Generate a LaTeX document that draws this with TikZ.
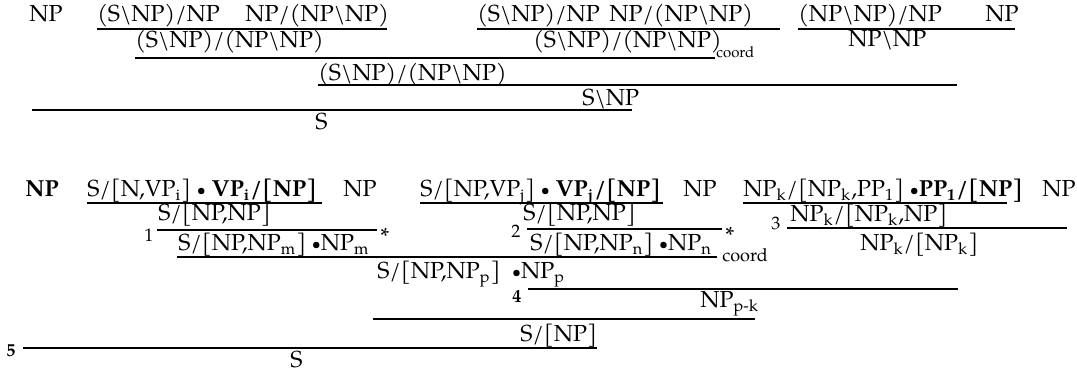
\documentclass[tikz,border=0pt]{standalone}
\usepackage{fontspec}
\setmainfont{TeX Gyre Pagella}
\newcommand\bsl{\textbackslash}
\newcommand\sbs[1]{\textsubscript{#1}}
\newcommand\bul{\raisebox{0.12ex}{\fontsize{8}{8}\selectfont\textbullet}}
\begin{document}
\begin{tikzpicture}[x=0.5pt,y=-0.5pt,
  lbl/.style={anchor=base west,inner sep=0pt,font=\fontsize{11.6}{13}\selectfont},
  crd/.style={anchor=base west,inner sep=0pt},
  num/.style={anchor=base west,inner sep=0pt,font=\fontsize{9}{10}\selectfont},
  bnum/.style={anchor=base west,inner sep=0pt,font=\fontsize{9}{10}\selectfont\bfseries},
  star/.style={anchor=base west,inner sep=0pt,font=\fontsize{11.6}{13}\selectfont},
  bar/.style={line width=1pt}]
\useasboundingbox (0,0) rectangle (1077,373);
% ---------------- top derivation
\node[lbl] (a1) at (29,22) {NP};
\node[lbl] (a2) at (97,22) {(S\bsl NP)/NP};
\node[lbl] (a3) at (245,22) {NP/(NP\bsl NP)};
\node[lbl] (a4) at (477,22) {(S\bsl NP)/NP};
\node[lbl] (a5) at (609,22) {NP/(NP\bsl NP)};
\node[lbl] (a6) at (798,22) {(NP\bsl NP)/NP};
\node[lbl] (a7) at (985,22) {NP};
\draw[bar] (97,29) -- (387,29);
\draw[bar] (477,29) -- (780,29);
\draw[bar] (798,29) -- (1015,29);
\node[lbl] (b1) at (135,48) {(S\bsl NP)/(NP\bsl NP)};
\node[lbl] (b2) at (533,48) {(S\bsl NP)/(NP\bsl NP)};
\node[crd,font=\fontsize{7.5}{8}\selectfont] (b2c) at (716,58) {coord};
\node[lbl] (b3) at (848,47) {NP\bsl NP};
\draw[bar] (135,58) -- (715,58);
\node[lbl] (c1) at (318,81) {(S\bsl NP)/(NP\bsl NP)};
\draw[bar] (318,85) -- (957,85);
\node[lbl] (d1) at (582,106) {S\bsl NP};
\draw[bar] (32,110) -- (632,110);
\node[lbl] (e1) at (315,130) {S};
% ---------------- bottom derivation
\node[lbl,font=\fontsize{11.6}{13}\selectfont\bfseries] (f1) at (25,197) {NP};
\node[lbl] (f2) at (87,197) {S/[N,VP\sbs{i}] \bul\ \textbf{VP\sbs{i}/[NP]}};
\node[lbl] (f3) at (343,197) {NP};
\node[lbl] (f4) at (420,197) {S/[NP,VP\sbs{j}] \bul\ \textbf{VP\sbs{j}/[NP]}};
\node[lbl] (f5) at (683,197) {NP};
\node[lbl] (f6) at (743,197) {NP\sbs{k}/[NP\sbs{k},PP\sbs{1}] \bul\textbf{PP\sbs{1}/[NP]}};
\node[lbl] (f7) at (1042,197) {NP};
\draw[bar] (87,203) -- (322,203);
\draw[bar] (420,203) -- (663,203);
\draw[bar] (743,203) -- (1007,203);
% row 2
\node[lbl] (g1) at (158,221) {S/[NP,NP]};
\draw[bar] (157,230) -- (377,230);
\node[num] (n1) at (144,242) {1};
\node[star] (s1) at (380,245) {*};
\node[lbl] (g2) at (523,221) {S/[NP,NP]};
\draw[bar] (527,229) -- (722,229);
\node[num] (n2) at (511,238) {2};
\node[star] (s2) at (725,244) {*};
\node[lbl] (g3) at (790,222) {NP\sbs{k}/[NP\sbs{k},NP]};
\draw[bar] (787,228) -- (1067,228);
\node[num] (n3) at (771,230) {3};
% row 3
\node[lbl] (h1) at (178,251) {S/[NP,NP\sbs{m}] \bul NP\sbs{m}};
\node[lbl] (h2) at (530,251) {S/[NP,NP\sbs{n}] \bul NP\sbs{n}};
\node[lbl] (h3) at (860,251) {NP\sbs{k}/[NP\sbs{k}]};
\draw[bar] (177,257) -- (717,257);
\node[crd,font=\fontsize{9}{10}\selectfont] (h2c) at (722,262) {coord};
% row 4
\node[lbl] (i1) at (377,279) {S/[NP,NP\sbs{p}] \ \bul NP\sbs{p}};
\draw[bar] (528,289) -- (958,289);
\node[bnum] (n4) at (512,303) {4};
\node[lbl] (j1) at (700,308) {NP\sbs{p-k}};
\draw[bar] (373,319) -- (755,319);
\node[lbl] (k1) at (520,342) {S/[NP]};
\draw[bar] (23,348) -- (597,348);
\node[bnum] (n5) at (6,357) {5};
\node[lbl] (l1) at (290,368) {S};
\end{tikzpicture}
\end{document}
